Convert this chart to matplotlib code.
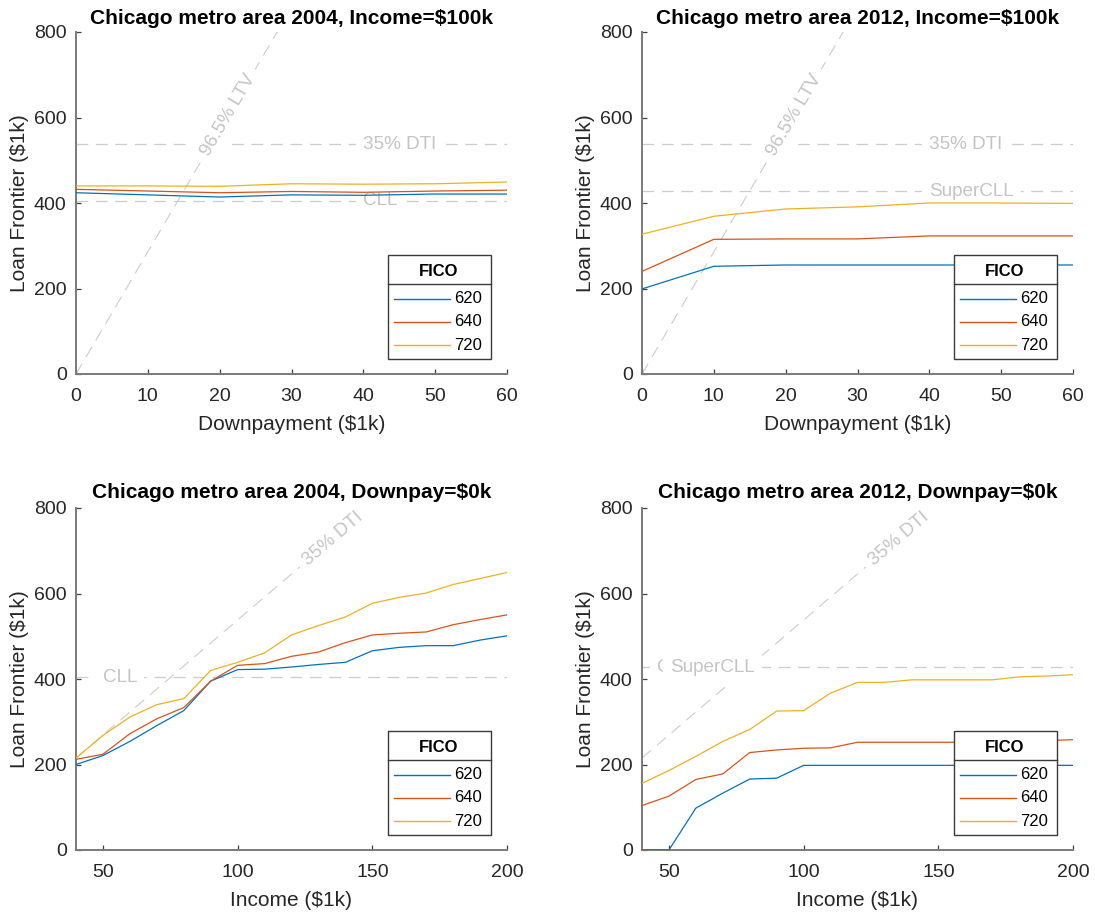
import numpy as np
import matplotlib
matplotlib.use("Agg")
import matplotlib.pyplot as plt
from matplotlib.lines import Line2D
from matplotlib.patches import Rectangle

plt.rcParams['font.family'] = ['Liberation Sans', 'DejaVu Sans']
plt.rcParams['lines.scale_dashes'] = False

# --- data ---
fico = ['620', '640', '720']
colors = ['#0072BD', '#D95319', '#EDB120']

downpay = [0, 10, 20, 30, 40, 50, 60]
loan_2004_dp = [
    [424, 419, 414, 419, 418, 421, 421],
    [432, 428, 424, 427, 425, 428, 430],
    [440, 440, 439, 445, 444, 445, 449],
]
loan_2012_dp = [
    [199, 252, 255, 255, 255, 255, 255],
    [240, 315, 316, 316, 323, 323, 323],
    [327, 369, 386, 391, 400, 400, 399],
]

income = [40, 50, 60, 70, 80, 90, 100, 110, 120, 130, 140, 150, 160, 170, 180, 190, 200]
loan_2004_inc = [
    [200, 221, 254, 291, 326, 395, 422, 423, 428, 434, 439, 466, 474, 478, 478, 491, 501],
    [212, 224, 272, 307, 333, 395, 432, 436, 453, 463, 485, 503, 507, 510, 527, 539, 550],
    [215, 268, 311, 340, 354, 420, 439, 461, 503, 525, 545, 577, 591, 601, 621, 635, 649],
]
loan_2012_inc = [
    [0, 0, 98, 133, 166, 168, 198, 198, 198, 198, 198, 198, 198, 198, 198, 198, 198],
    [104, 126, 165, 178, 228, 234, 238, 239, 252, 252, 252, 252, 252, 252, 255, 256, 258],
    [156, 186, 219, 254, 282, 325, 326, 367, 392, 392, 398, 398, 398, 398, 405, 407, 410],
]

ltv_slope = 1 / 0.035      # 96.5% LTV frontier, loan per $1k down
dti_slope = 5.38           # 35% DTI frontier, loan per $1k income
dti_at_100k = 538
cll_2004 = 405
supercll_2012 = 427

ref_color = '#cccccc'
ref_text = '#c4c4c4'
DASH = (0, (8.5, 5.5))
DARK = '#262626'

W, H = 1095, 914
fig = plt.figure(figsize=(W / 100, H / 100), dpi=100)

# axes boxes in pixels: left, top, right, bottom
boxes = [(76, 32, 507, 374), (642, 32, 1073, 374),
         (76, 508, 507, 850), (642, 508, 1073, 850)]
axes = []
for l, t, r, b in boxes:
    ax = fig.add_axes([l / W, 1 - b / H, (r - l) / W, (b - t) / H])
    axes.append(ax)


def style(ax, title, xlabel, tpad):
    ax.set_ylim(0, 800)
    ax.set_yticks([0, 200, 400, 600, 800])
    for s in ['top', 'right']:
        ax.spines[s].set_visible(False)
    for s in ['left', 'bottom']:
        ax.spines[s].set_color('#7a7a7a')
        ax.spines[s].set_linewidth(1.4)
    ax.tick_params(direction='in', length=3.3, width=0.9, color='#404040',
                   labelsize=14, labelcolor=DARK)
    ax.tick_params(axis='x', pad=10)
    ax.tick_params(axis='y', pad=6.7)
    ax.set_title(title, fontsize=15, fontweight='bold', pad=tpad)
    ax.set_xlabel(xlabel, fontsize=15, color=DARK, labelpad=7)
    ax.set_ylabel('Loan Frontier ($1k)', fontsize=15, color=DARK, labelpad=3.5)


def ref_label(ax, x, y, s, slope=None, z=2.5):
    kw = dict(fontsize=13.6, color=ref_text, zorder=z,
              bbox=dict(facecolor='white', edgecolor='none', pad=5))
    if slope is None:
        ax.text(x, y, s, ha='left', va='center', **kw)
    else:
        ang = ax.transData.transform_angles(np.array([np.degrees(np.arctan(slope))]),
                                            np.array([[x, y]]))[0]
        ax.text(x, y, s, ha='center', va='center', rotation=ang,
                rotation_mode='anchor', **kw)


def add_legend(ax):
    # MATLAB-style legend with a title row, placed in pixel offsets from the
    # lower-right corner of the axes
    bb = ax.get_position()
    aw, ah = bb.width * W, bb.height * H
    bw, bh = 103, 104
    x0 = aw - 16.5 - bw
    y0 = 14.7

    def pt(px, py):  # px from box left, py from box top
        return (x0 + px) / aw, (y0 + bh - py) / ah

    kw = dict(transform=ax.transAxes, clip_on=False, zorder=10)
    ax.add_patch(Rectangle(pt(0, bh), bw / aw, bh / ah, facecolor='white',
                           edgecolor='#3a3a3a', lw=1.0, **kw))
    ax.add_line(Line2D(*zip(pt(0, 28.5), pt(bw, 28.5)), color='#3a3a3a', lw=1.0, **kw))
    ax.text(*pt(bw / 2, 16), 'FICO', ha='center', va='center', fontsize=12,
            fontweight='bold', color='black', **kw)
    for i, (lab, c) in enumerate(zip(fico, colors)):
        yy = 43.3 + i * 23.4
        ax.add_line(Line2D(*zip(pt(6, yy), pt(62.5, yy)), color=c, lw=1.0, **kw))
        ax.text(*pt(67, yy), lab, ha='left', va='center', fontsize=12,
                color='black', **kw)


# top panels: loan frontier vs downpayment
dp_line = np.array([0, 60])
for ax, data, year in [(axes[0], loan_2004_dp, 2004), (axes[1], loan_2012_dp, 2012)]:
    ax.set_xlim(0, 60)
    ax.set_xticks([0, 10, 20, 30, 40, 50, 60])
    ax.plot(dp_line, ltv_slope * dp_line, color=ref_color, lw=0.8, ls=DASH, zorder=1)
    ax.axhline(dti_at_100k, color=ref_color, lw=0.9, ls=DASH, zorder=1)
    for vals, c in zip(data, colors):
        ax.plot(downpay, vals, color=c, lw=0.9, zorder=3)
    style(ax, f'Chicago metro area {year}, Income=$100k', 'Downpayment ($1k)', 6)
    ref_label(ax, 21.2, 21.2 * ltv_slope, '96.5% LTV', slope=ltv_slope)
    ref_label(ax, 40, dti_at_100k, '35% DTI')
    if year == 2004:
        ax.axhline(cll_2004, color=ref_color, lw=0.9, ls=DASH, zorder=1)
        ref_label(ax, 40, cll_2004, 'CLL')
    else:
        ax.axhline(supercll_2012, color=ref_color, lw=0.9, ls=DASH, zorder=1)
        ref_label(ax, 40, supercll_2012, 'SuperCLL')
    add_legend(ax)

# bottom panels: loan frontier vs income
inc_line = np.array([40, 200])
for ax, data, year in [(axes[2], loan_2004_inc, 2004), (axes[3], loan_2012_inc, 2012)]:
    ax.set_xlim(40, 200)
    ax.set_xticks([50, 100, 150, 200])
    ax.plot(inc_line, dti_slope * inc_line, color=ref_color, lw=0.8, ls=DASH, zorder=1)
    for vals, c in zip(data, colors):
        ax.plot(income, vals, color=c, lw=0.9, zorder=3)
    style(ax, f'Chicago metro area {year}, Downpay=$0k', 'Income ($1k)', 7.5)
    ref_label(ax, 135.4, 135.4 * dti_slope, '35% DTI', slope=dti_slope)
    if year == 2004:
        ax.axhline(cll_2004 - 1, color=ref_color, lw=0.9, ls=DASH, zorder=1)
        ref_label(ax, 50, cll_2004 - 1, 'CLL')
    else:
        ax.axhline(supercll_2012, color=ref_color, lw=0.9, ls=DASH, zorder=1)
        ref_label(ax, 45.5, supercll_2012, 'CLL', z=2.4)
        ref_label(ax, 50.4, supercll_2012, 'SuperCLL', z=2.5)
    add_legend(ax)

fig.savefig('out.png', dpi=100, facecolor='white')
